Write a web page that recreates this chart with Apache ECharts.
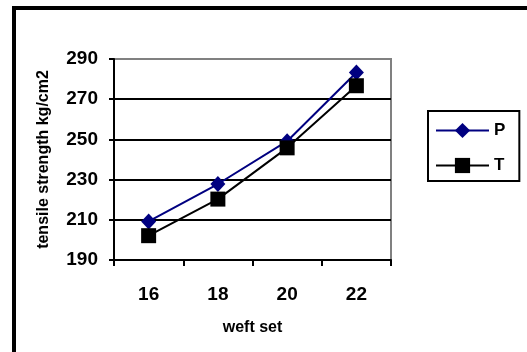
<!DOCTYPE html>
<html>
<head>
<meta charset="utf-8">
<script src="https://cdn.jsdelivr.net/npm/echarts@6/dist/echarts.min.js"></script>
<style>
html,body{margin:0;padding:0;background:#fff;}
#chart{width:527px;height:352px;}
</style>
</head>
<body>
<div id="chart"></div>
<script>
var categories = ['16', '18', '20', '22'];
var seriesP = [209.2, 227.8, 249.1, 283.3];
var seriesT = [202.1, 220.3, 245.8, 276.7];
var yTicks = [190, 210, 230, 250, 270, 290];

var FONT = "'Liberation Sans', Arial, sans-serif";
var chart = echarts.init(document.getElementById('chart'), null, {renderer: 'canvas'});
chart.setOption({
  animation: false,
  backgroundColor: '#ffffff',
  graphic: [{
    type: 'rect', z: 0, silent: true,
    shape: {x: 14, y: 8, width: 600, height: 400},
    style: {fill: 'none', stroke: '#000', lineWidth: 4}
  }],
  grid: {
    left: 114, top: 59, width: 277, height: 201,
    show: true, borderColor: '#808080', borderWidth: 2, backgroundColor: 'transparent'
  },
  legend: {
    orient: 'vertical',
    left: 428, top: 111,
    padding: [11, 14, 7, 7],
    borderColor: '#000', borderWidth: 2,
    itemWidth: 53, itemHeight: 19, itemGap: 18,
    textStyle: {fontFamily: FONT, fontWeight: 'bold', fontSize: 17, color: '#000'},
    data: ['P', 'T']
  },
  xAxis: {
    type: 'category',
    data: categories,
    boundaryGap: true,
    name: 'weft set',
    nameLocation: 'middle',
    nameGap: 60,
    nameTextStyle: {fontFamily: FONT, fontWeight: 'bold', fontSize: 16, color: '#000'},
    axisLine: {show: true, lineStyle: {color: '#000', width: 2}},
    axisTick: {show: true, length: 6, alignWithLabel: false, lineStyle: {color: '#000', width: 2}},
    axisLabel: {margin: 25, fontFamily: FONT, fontWeight: 'bold', fontSize: 19, color: '#000'},
    splitLine: {show: false}
  },
  yAxis: {
    type: 'value',
    min: yTicks[0], max: yTicks[yTicks.length - 1], interval: yTicks[1] - yTicks[0],
    name: 'tensile strength kg/cm2',
    nameLocation: 'middle',
    nameRotate: 90,
    nameGap: 62,
    nameTextStyle: {fontFamily: FONT, fontWeight: 'bold', fontSize: 16, color: '#000'},
    axisLine: {show: true, lineStyle: {color: '#000', width: 2}},
    axisTick: {show: true, length: 5, lineStyle: {color: '#000', width: 2}},
    axisLabel: {margin: 16, fontFamily: FONT, fontWeight: 'bold', fontSize: 19, color: '#000'},
    splitLine: {show: true, showMinLine: false, showMaxLine: false, lineStyle: {color: '#000', width: 2}}
  },
  series: [{
    name: 'P', type: 'line', data: seriesP,
    symbol: 'diamond', symbolSize: [15, 16],
    itemStyle: {color: '#000080'},
    lineStyle: {color: '#000080', width: 2},
    z: 3
  }, {
    name: 'T', type: 'line', data: seriesT,
    symbol: 'rect', symbolSize: 15,
    itemStyle: {color: '#000'},
    lineStyle: {color: '#000', width: 2},
    z: 4
  }]
});
</script>
</body>
</html>
